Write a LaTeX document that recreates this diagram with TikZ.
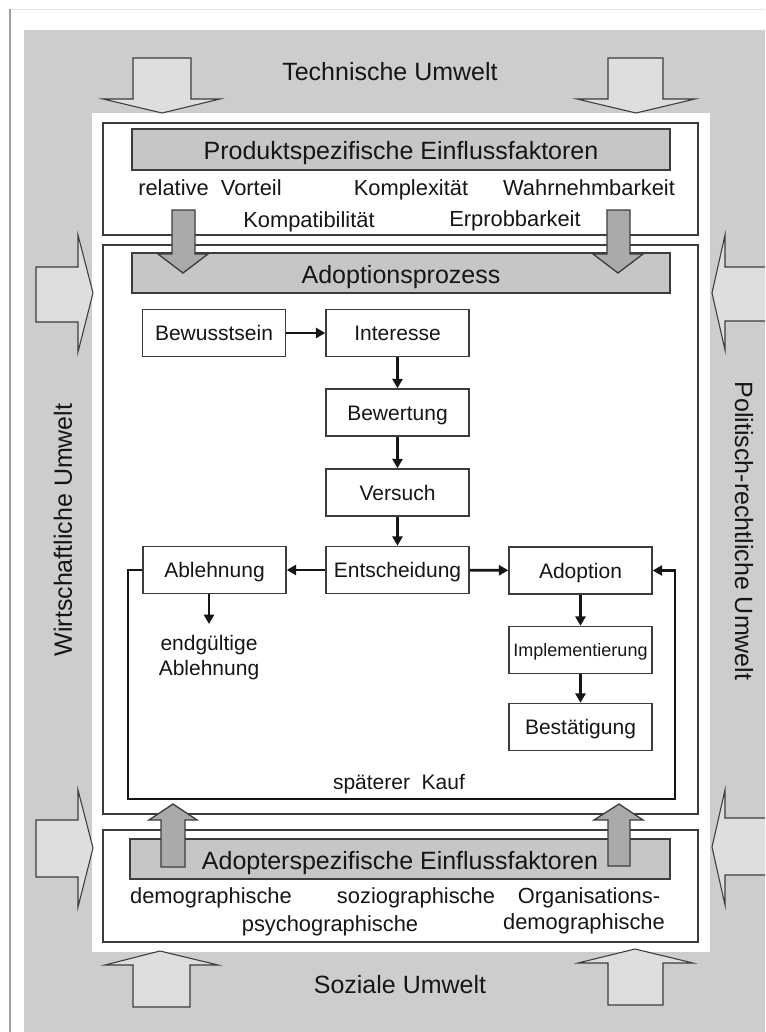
\documentclass[tikz,border=0pt]{standalone}
\usepackage{fontspec}
\setmainfont{Liberation Sans}
\usetikzlibrary{arrows.meta}

\definecolor{bggray}{RGB}{205,205,205}
\definecolor{bargray}{RGB}{198,198,198}
\definecolor{darkarrow}{RGB}{170,170,170}
\definecolor{lightarrow}{RGB}{222,222,222}
\definecolor{edge}{RGB}{60,60,60}
\definecolor{ink}{RGB}{22,22,22}

% font sizes (1 unit = 0.75pt)
\newcommand\fBig{\fontsize{18.75}{22}\selectfont}
\newcommand\fBox{\fontsize{15.75}{18.75}\selectfont}
\newcommand\fSmall{\fontsize{16.4}{20}\selectfont}
\newcommand\fTiny{\fontsize{13.5}{16}\selectfont}

\begin{document}
\begin{tikzpicture}[x=0.75pt,y=-0.75pt,
  envarrow/.style={fill=lightarrow, draw=edge, line width=0.8pt, line join=miter},
  procarrow/.style={fill=darkarrow, draw=edge, line width=1pt, line join=miter},
  frame/.style={draw=edge, line width=1.1pt},
  bar/.style={fill=bargray, draw=edge, line width=1.1pt},
  proc/.style={draw=edge, fill=white, line width=1.1pt, minimum width=107.25pt,
    minimum height=35.25pt, inner sep=0pt, text height=11.3pt, text depth=0pt,
    font=\fBox, text=ink},
  lbl/.style={anchor=base, inner sep=0pt, text=ink},
  flow/.style={draw=ink, line width=2pt, -{Triangle[length=7pt,width=7.5pt]}},
  loopline/.style={draw=ink, line width=2.2pt, -{Triangle[length=7pt,width=7.5pt]}}
]
\useasboundingbox (0,0) rectangle (765,1032);
\clip (0,0) rectangle (765,1032);
\fill[white] (0,0) rectangle (765,1032);
\draw[gray!20, line width=0.6pt] (10,9) -- (765,9);
\draw[gray!75, line width=0.8pt] (10,9) -- (10,1032);

% environment background and white inner area
\fill[bggray] (24,30) rectangle (765,1032);
\fill[white] (92,113) rectangle (710,952);

% environment arrows
\draw[envarrow] (133,58) -- (191,58) -- (191,99) -- (220,99) -- (162,113) -- (103,99) -- (133,99) -- cycle;
\draw[envarrow] (608,58) -- (663,58) -- (663,99) -- (695,99) -- (636,113) -- (577,99) -- (608,99) -- cycle;
\draw[envarrow] (36,267) -- (78,267) -- (78,235) -- (93,293) -- (78,352) -- (78,322) -- (36,322) -- cycle;
\draw[envarrow] (36,820) -- (78,820) -- (78,790) -- (93,848) -- (78,907) -- (78,877) -- (36,877) -- cycle;
\draw[envarrow] (780,267) -- (725,267) -- (725,235) -- (712,293) -- (725,350) -- (725,321) -- (780,321) -- cycle;
\draw[envarrow] (780,818) -- (725,818) -- (725,790) -- (712,847) -- (725,905) -- (725,875) -- (780,875) -- cycle;
\draw[envarrow] (133,1007) -- (190,1007) -- (190,965) -- (218,965) -- (160,951) -- (105,965) -- (133,965) -- cycle;
\draw[envarrow] (608,1005) -- (663,1005) -- (663,963) -- (693,963) -- (635,949) -- (578,963) -- (608,963) -- cycle;

% environment labels
\node[lbl, font=\fBig] (tech) at (390,80) {Technische Umwelt};
\node[lbl, font=\fBig] (soz) at (400,993) {Soziale Umwelt};
\node[font=\fBig, text=ink, rotate=90, inner sep=0pt, text height=13.4pt, text depth=0pt]
  (wirt) at (63,530) {Wirtschaftliche Umwelt};
\node[font=\fBig, text=ink, rotate=-90, inner sep=0pt, text height=13.4pt, text depth=0pt]
  (pol) at (744,531) {Politisch-rechtliche Umwelt};

% three frames with their header bars
\draw[frame] (103,123) rectangle (698,235);
\draw[frame] (103,245) rectangle (698,814);
\draw[frame] (103,830) rectangle (698,942);
\draw[bar] (132,129) rectangle (670,170);
\draw[bar] (132,253) rectangle (670,293);
\draw[bar] (130,839) rectangle (670,879);

\node[lbl, font=\fBig] (prodh) at (401,159) {Produktspezifische Einflussfaktoren};
\node[lbl, font=\fBig] (adoph) at (401,283) {Adoptionsprozess};
\node[lbl, font=\fBig] (adopth) at (400,869) {Adopterspezifische Einflussfaktoren};

% product factors
\node[lbl, font=\fSmall] (rv) at (210,195) {relative\ \ Vorteil};
\node[lbl, font=\fSmall] (kx) at (411,195) {Komplexität};
\node[lbl, font=\fSmall] (wb) at (589,195) {Wahrnehmbarkeit};
\node[lbl, font=\fSmall] (kp) at (309,227) {Kompatibilität};
\node[lbl, font=\fSmall] (eb) at (515,226) {Erprobbarkeit};

% adopter factors
\node[lbl, font=\fSmall] (dg) at (211,903) {demographische};
\node[lbl, font=\fSmall] (sg) at (416,903) {soziographische};
\node[lbl, font=\fSmall] (og) at (589,903) {Organisations-};
\node[lbl, font=\fSmall] (pg) at (330,931) {psychographische};
\node[lbl, font=\fSmall] (odg) at (584,929) {demographische};

% adoption process steps
\node[proc] (bew)  at (214,333)   {Bewusstsein};
\node[proc] (int)  at (397.5,333) {Interesse};
\node[proc] (bwt)  at (397.5,412.5) {Bewertung};
\node[proc] (vers) at (397.5,492.5) {Versuch};
\node[proc] (ent)  at (397.5,570) {Entscheidung};
\node[proc] (abl)  at (214.5,570) {Ablehnung};
\node[proc] (adop) at (580.5,570.5) {Adoption};
\node[proc, font=\fTiny, text height=9.7pt] (impl) at (580.5,650) {Implementierung};
\node[proc] (best) at (580.5,727) {Bestätigung};

\node[font=\fBox, text=ink, align=center, anchor=north, inner xsep=0pt, inner ysep=8.25pt]
  (endg) at (209,624) {endgültige\\Ablehnung};
\node[lbl, font=\fBox] (kauf) at (399,789) {späterer\ \ Kauf};

\draw[flow] (bew) -- (int);
\draw[flow] (int) -- (bwt);
\draw[flow] (bwt) -- (vers);
\draw[flow] (vers) -- (ent);
\draw[flow] (ent) -- (abl);
\draw[flow] (ent) -- (adop);
\draw[flow] (adop) -- (impl);
\draw[flow] (impl) -- (best);
\draw[flow] (abl.south -| endg.north) -- (endg.north);

% repurchase loop
\coordinate (lb) at (128,799);
\coordinate (rb) at (675,799);
\draw[loopline] (abl.west) -| (lb) -- (rb) |- (adop.east);

% influence arrows into the adoption process
\draw[procarrow] (172,210) -- (195,210) -- (195,254) -- (208,254) -- (183,273) -- (158,254) -- (172,254) -- cycle;
\draw[procarrow] (607,210) -- (630,210) -- (630,254) -- (643,254) -- (618,273) -- (593,254) -- (607,254) -- cycle;
\draw[procarrow] (161,867) -- (185,867) -- (185,820) -- (197,820) -- (173,804) -- (149,820) -- (161,820) -- cycle;
\draw[procarrow] (608,866) -- (630,866) -- (630,820) -- (643,820) -- (619,804) -- (594,820) -- (608,820) -- cycle;
\end{tikzpicture}
\end{document}
